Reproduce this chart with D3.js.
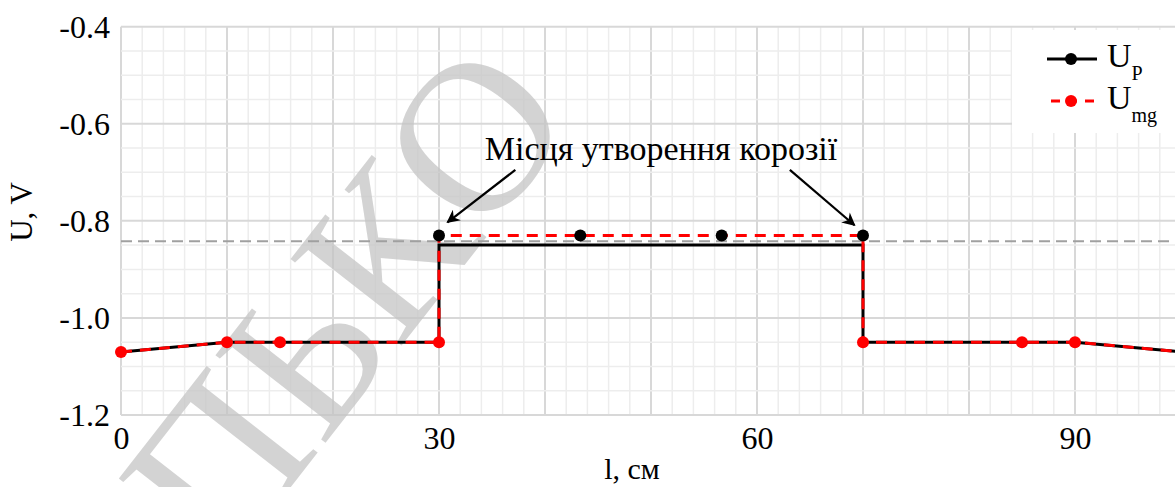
<!DOCTYPE html>
<html>
<head>
<meta charset="utf-8">
<script src="https://cdn.jsdelivr.net/npm/d3@7/dist/d3.min.js"></script>
<style>
  html, body { margin: 0; padding: 0; background: #fff; }
  svg { display: block; }
</style>
</head>
<body>
<svg id="chart" width="1175" height="487"></svg>
<script>
// Potential along the pipe section, l in cm
const lenP   = [0, 10, 15, 30, 30, 70, 70, 85, 90, 100];
const valP   = [-1.07, -1.05, -1.05, -1.05, -0.85, -0.85, -1.05, -1.05, -1.05, -1.07];

const lenMg  = [0, 10, 15, 30, 30, 43.33, 56.67, 70, 70, 85, 90, 100];
const valMg  = [-1.07, -1.05, -1.05, -1.05, -0.83, -0.83, -0.83, -0.83, -1.05, -1.05, -1.05, -1.07];

// Protection criterion level
const criterion = -0.842;

const xTicks = [0, 30, 60, 90];
const yTicks = [-0.4, -0.6, -0.8, -1.0, -1.2];

const legendNames = [["U", "P"], ["U", "mg"]];
const noteText = "Місця утворення корозії";
const watermark = "ПЬКО";

const SERIF = "'Liberation Serif', Tinos, 'Times New Roman', 'DejaVu Serif', serif";

const svg = d3.select("#chart");

const x = d3.scaleLinear().domain([0, 100]).range([121, 1181]);
const y = d3.scaleLinear().domain([-1.2, -0.4]).range([415, 26.7]);

// grid
const grid = svg.append("g");
const minorX = d3.range(0, 101, 2);
const minorY = d3.range(-1.2, -0.399, 0.05);
const isMajorY = d => Math.abs(Math.round(d * 5) - d * 5) < 1e-6;
grid.selectAll(".vx").data(minorX).join("line")
  .attr("x1", d => x(d)).attr("x2", d => x(d))
  .attr("y1", y(-0.4)).attr("y2", y(-1.2))
  .attr("stroke", d => d % 10 === 0 ? "#d8d8d8" : "#ededed")
  .attr("stroke-width", d => d % 10 === 0 ? 2 : 1.5);
grid.selectAll(".hy").data(minorY).join("line")
  .attr("x1", x(0)).attr("x2", x(100))
  .attr("y1", d => y(d)).attr("y2", d => y(d))
  .attr("stroke", d => isMajorY(d) ? "#d8d8d8" : "#ededed")
  .attr("stroke-width", d => isMajorY(d) ? 2 : 1.5);

// watermark
svg.append("text")
  .attr("transform", "translate(345,300) rotate(-52)")
  .attr("text-anchor", "middle")
  .attr("dominant-baseline", "central")
  .attr("font-family", SERIF)
  .style("font-family", SERIF)
  .style("font-size", "215px")
  .style("fill", "#c4c4c4")
  .style("fill-opacity", 0.75)
  .text(watermark);

// criterion line
svg.append("line")
  .attr("x1", x(0)).attr("x2", x(100))
  .attr("y1", y(criterion)).attr("y2", y(criterion))
  .attr("stroke", "#a0a0a0").attr("stroke-width", 2)
  .attr("stroke-dasharray", "11,6");

// axes (tick labels only)
const xAxis = d3.axisBottom(x).tickValues(xTicks).tickSize(0).tickPadding(0).tickFormat(d3.format("d"));
const gx = svg.append("g").call(xAxis).attr("font-family", SERIF);
gx.select(".domain").remove();
gx.selectAll("text").attr("y", 449).attr("dy", null)
  .style("font-family", SERIF).style("font-size", "32px").attr("fill", "#000");

const yAxis = d3.axisLeft(y).tickValues(yTicks).tickSize(0).tickPadding(0).tickFormat(d3.format(".1f"));
const gy = svg.append("g").call(yAxis).attr("font-family", SERIF);
gy.select(".domain").remove();
gy.selectAll("text").attr("x", 110).attr("dy", "0.34em")
  .style("font-family", SERIF).style("font-size", "32px").attr("fill", "#000")
  .text(d => d3.format(".1f")(d).replace("−", "-"));

// axis titles
svg.append("text").attr("x", 632).attr("y", 479).attr("text-anchor", "middle")
  .style("font-family", SERIF).style("font-size", "30px").text("l, см");
svg.append("text").attr("transform", "translate(32,212) rotate(-90)").attr("text-anchor", "middle")
  .style("font-family", SERIF).style("font-size", "31px").text("U, V");

// series
const line = d3.line().x(d => x(d[0])).y(d => y(d[1]));
const ptsP = lenP.map((l, i) => [l, valP[i]]);
const ptsMg = lenMg.map((l, i) => [l, valMg[i]]);

svg.append("path").datum(ptsP).attr("d", line)
  .attr("fill", "none").attr("stroke", "#000").attr("stroke-width", 3);
svg.append("path").datum(ptsMg).attr("d", line)
  .attr("fill", "none").attr("stroke", "#ff0000").attr("stroke-width", 3)
  .attr("stroke-dasharray", "11,8");

// markers: points above the criterion are marked black
const uniq = ptsMg.filter((p, i) => !(i > 0 && p[0] === ptsMg[i - 1][0] && p[1] === ptsMg[i - 1][1]));
svg.selectAll(".mk").data(uniq).join("circle")
  .attr("cx", d => x(d[0])).attr("cy", d => y(d[1])).attr("r", 6)
  .attr("fill", d => d[1] > criterion ? "#000" : "#ff0000");

// annotation
svg.append("text").attr("x", 661).attr("y", 160).attr("text-anchor", "middle")
  .style("font-family", SERIF).style("font-size", "34px").text(noteText);

const defs = svg.append("defs");
defs.append("marker").attr("id", "ah").attr("viewBox", "0 0 10 10")
  .attr("refX", 9).attr("refY", 5).attr("markerWidth", 8).attr("markerHeight", 6)
  .attr("orient", "auto").attr("markerUnits", "strokeWidth")
  .append("path").attr("d", "M0,0 L10,5 L0,10 L3,5 Z").attr("fill", "#000");

const arrows = [
  [[37.2, -0.695], [30.8, -0.803]],
  [[63.1, -0.695], [69.2, -0.809]]
];
svg.selectAll(".arr").data(arrows).join("line")
  .attr("x1", d => x(d[0][0])).attr("y1", d => y(d[0][1]))
  .attr("x2", d => x(d[1][0])).attr("y2", d => y(d[1][1]))
  .attr("stroke", "#000").attr("stroke-width", 2.2)
  .attr("marker-end", "url(#ah)");

// legend
const lg = svg.append("g");
lg.append("rect").attr("x", 1012).attr("y", 30).attr("width", 170).attr("height", 103).attr("fill", "#fff");
const rows = [
  { y: 59, color: "#000", name: legendNames[0] },
  { y: 101, color: "#ff0000", name: legendNames[1] }
];
rows.forEach((r, i) => {
  lg.append("line").attr("x1", 1047).attr("x2", 1097).attr("y1", r.y).attr("y2", r.y)
    .attr("stroke", r.color).attr("stroke-width", 3)
    .attr("stroke-dasharray", i === 1 ? "9,8" : null)
    .attr("stroke-dashoffset", i === 1 ? -4 : null);
  lg.append("circle").attr("cx", 1071).attr("cy", r.y).attr("r", 6).attr("fill", r.color);
  const t = lg.append("text").attr("x", 1107).attr("y", r.y + 8)
    .style("font-family", SERIF).style("font-size", "34px");
  t.append("tspan").text(r.name[0]);
  t.append("tspan").attr("dy", 13).style("font-size", "20px").text(r.name[1]);
});
</script>
</body>
</html>
